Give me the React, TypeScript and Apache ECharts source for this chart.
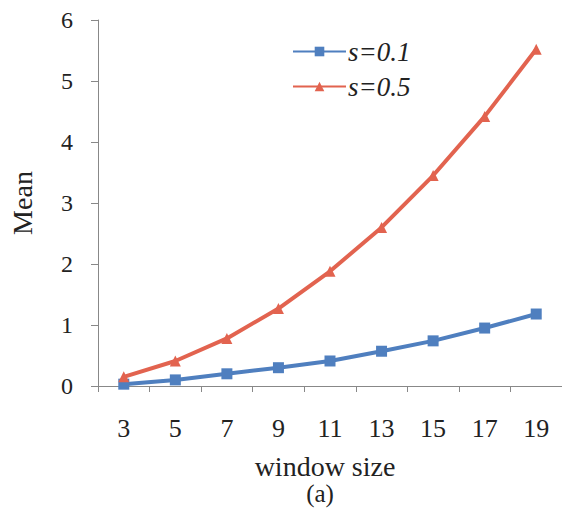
import React, { useEffect, useRef } from "react";
import * as echarts from "echarts";

const windowSizes = ["3", "5", "7", "9", "11", "13", "15", "17", "19"];
const meanS01 = [0.03, 0.1, 0.2, 0.3, 0.41, 0.57, 0.74, 0.95, 1.18];
const meanS05 = [0.15, 0.41, 0.78, 1.27, 1.88, 2.6, 3.45, 4.42, 5.52];
const yTicks = [0, 1, 2, 3, 4, 5, 6];

const SERIF = "Liberation Serif";
const INK = "#222";

export default function App() {
  const ref = useRef<HTMLDivElement>(null);

  useEffect(() => {
    document.body.style.margin = "0";
    const chart = echarts.init(ref.current!, null, { renderer: "svg" });
    chart.setOption({
      animation: false,
      backgroundColor: "#ffffff",
      textStyle: { fontFamily: SERIF },
      grid: { left: 97, right: 0, top: 20, bottom: 129, containLabel: false },
      legend: {
        orient: "vertical",
        left: 292,
        top: 38,
        padding: 0,
        itemWidth: 53,
        itemHeight: 12,
        itemGap: 8,
        data: ["s=0.1", "s=0.5"],
        textStyle: {
          fontFamily: SERIF,
          fontStyle: "italic",
          fontSize: 27,
          color: INK,
          padding: [0, 0, 0, -3],
        },
      },
      xAxis: {
        type: "category",
        data: windowSizes,
        boundaryGap: true,
        axisLine: { lineStyle: { color: "#888", width: 1 } },
        axisTick: { show: true, length: 6, lineStyle: { color: "#888" } },
        axisLabel: {
          margin: 29,
          fontFamily: SERIF,
          fontSize: 26,
          color: INK,
        },
        splitLine: { show: false },
      },
      yAxis: {
        type: "value",
        min: 0,
        max: 6,
        interval: 1,
        name: "Mean",
        nameLocation: "middle",
        nameRotate: 90,
        nameGap: 62,
        nameTextStyle: { fontFamily: SERIF, fontSize: 28, color: INK },
        axisLine: { show: true, lineStyle: { color: "#888", width: 1 } },
        axisTick: { show: true, length: 7, lineStyle: { color: "#888" } },
        axisLabel: {
          margin: 25,
          fontFamily: SERIF,
          fontSize: 24,
          color: INK,
          formatter: (v: number) => (yTicks.includes(v) ? String(v) : ""),
        },
        splitLine: { show: false },
      },
      graphic: [
        {
          type: "text",
          x: 325,
          y: 466,
          style: {
            text: "window size",
            fontFamily: SERIF,
            fontSize: 28,
            fill: INK,
            align: "center",
            verticalAlign: "middle",
          },
        },
        {
          type: "text",
          x: 320,
          y: 493,
          style: {
            text: "(a)",
            fontFamily: SERIF,
            fontSize: 25,
            fill: INK,
            align: "center",
            verticalAlign: "middle",
          },
        },
      ],
      series: [
        {
          name: "s=0.1",
          type: "line",
          data: meanS01,
          symbol: "rect",
          symbolSize: 11,
          lineStyle: { color: "#4f7fbf", width: 4 },
          itemStyle: { color: "#4f7fbf" },
        },
        {
          name: "s=0.5",
          type: "line",
          data: meanS05,
          symbol: "triangle",
          symbolSize: 11,
          lineStyle: { color: "#e2634f", width: 4 },
          itemStyle: { color: "#e2634f" },
        },
      ],
    });
    return () => chart.dispose();
  }, []);

  return <div ref={ref} style={{ width: 562, height: 515 }} />;
}
